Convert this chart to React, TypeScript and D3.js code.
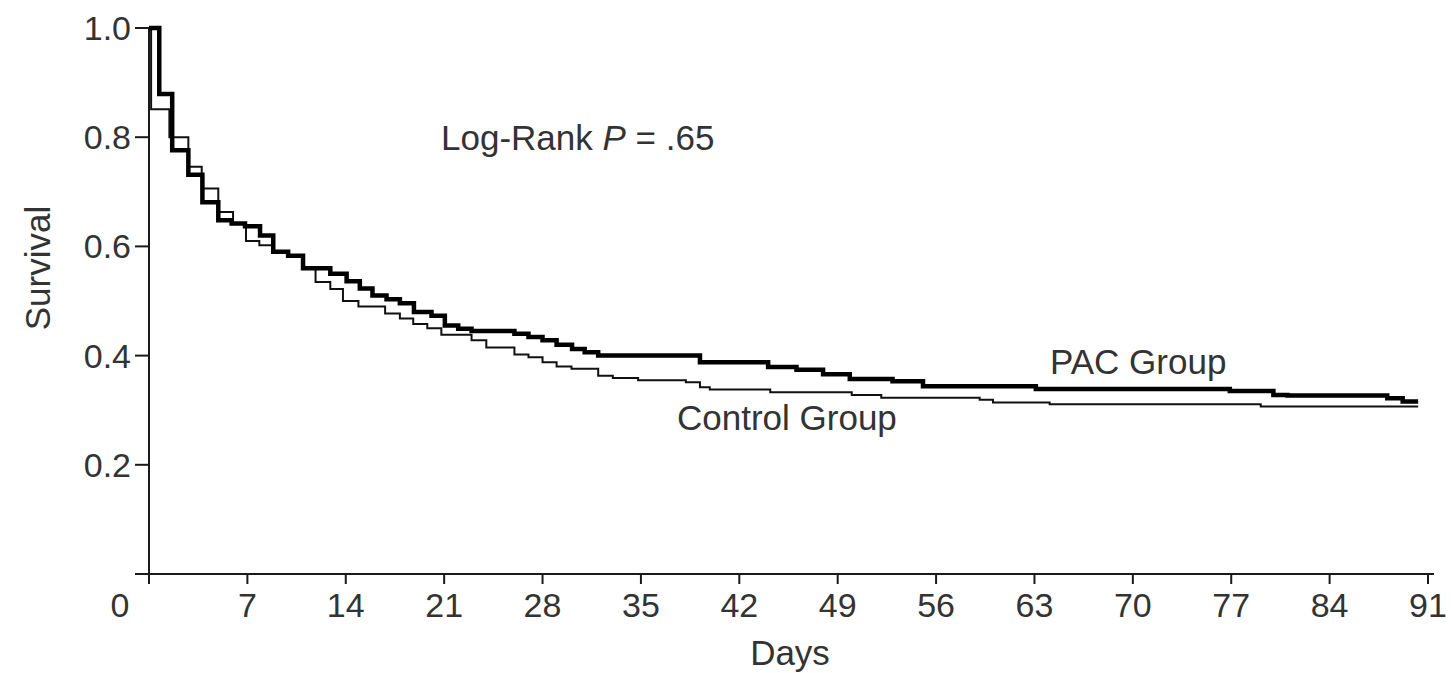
import React from "react";
import * as d3 from "d3";

const xTickValues = [0, 7, 14, 21, 28, 35, 42, 49, 56, 63, 70, 77, 84, 91];
const xTickLabels = ["0", "7", "14", "21", "28", "35", "42", "49", "56", "63", "70", "77", "84", "91"];
const yTickValues = [0.2, 0.4, 0.6, 0.8, 1.0];
const yTickLabels = ["0.2", "0.4", "0.6", "0.8", "1.0"];

const pacDays = [0, 0.73, 1.65, 2.8, 3.8, 4.93, 5.88, 6.83, 7.9, 8.84, 9.9, 10.96, 12.9, 14.06, 15.0, 15.9, 16.9, 17.85, 18.85, 20.1, 21.05, 22.0, 22.95, 26.0, 27.0, 28.0, 29.0, 30.1, 31.0, 31.96, 39.2, 44.05, 46.07, 47.96, 49.86, 52.9, 55.07, 63.1, 76.9, 80.0, 81.0, 88.1, 89.2, 90.3];
const pacSurvival = [1.0, 0.879, 0.776, 0.731, 0.681, 0.648, 0.642, 0.637, 0.62, 0.59, 0.583, 0.56, 0.55, 0.536, 0.523, 0.51, 0.503, 0.496, 0.48, 0.473, 0.455, 0.449, 0.445, 0.44, 0.434, 0.428, 0.42, 0.412, 0.406, 0.4, 0.388, 0.379, 0.374, 0.366, 0.357, 0.353, 0.344, 0.339, 0.335, 0.328, 0.327, 0.322, 0.316, 0.316];

const controlDays = [0, 0.15, 1.45, 2.8, 3.75, 4.93, 5.98, 6.9, 7.85, 8.84, 9.9, 10.96, 11.85, 12.9, 13.8, 14.9, 16.8, 17.85, 18.8, 19.8, 20.8, 22.95, 24.0, 26.0, 27.0, 28.0, 29.0, 30.06, 31.96, 33.0, 34.8, 38.2, 39.2, 39.9, 44.2, 50.0, 52.1, 59.1, 60.05, 64.08, 79.1, 90.3];
const controlSurvival = [1.0, 0.851, 0.8, 0.746, 0.706, 0.663, 0.642, 0.61, 0.602, 0.59, 0.583, 0.56, 0.535, 0.522, 0.5, 0.49, 0.477, 0.468, 0.458, 0.45, 0.438, 0.428, 0.415, 0.402, 0.397, 0.388, 0.38, 0.376, 0.363, 0.359, 0.355, 0.351, 0.342, 0.338, 0.333, 0.328, 0.323, 0.319, 0.314, 0.311, 0.307, 0.307];

const W = 1454;
const H = 673;
const FONT = "'Liberation Sans', Arial, Helvetica, sans-serif";
const TEXT = "#333333";
const AXIS = "#1a1a1a";

export default function App() {
  const x = d3.scaleLinear().domain([0, 91]).range([149, 1428]);
  const y = d3.scaleLinear().domain([0, 1]).range([574, 28]);

  const line = d3
    .line<[number, number]>()
    .x((d) => x(d[0]))
    .y((d) => y(d[1]))
    .curve(d3.curveStepAfter);

  const pac = pacDays.map((d, i) => [d, pacSurvival[i]] as [number, number]);
  const ctl = controlDays.map((d, i) => [d, controlSurvival[i]] as [number, number]);

  const y0 = y(0);
  const x0 = x(0);

  return (
    <svg
      width={W}
      height={H}
      style={{ position: "absolute", left: 0, top: 0, background: "#fff" }}
      fontFamily={FONT}
    >
      {/* axes */}
      <line x1={135} x2={1434} y1={y0} y2={y0} stroke={AXIS} strokeWidth={2} />
      <line x1={x0} x2={x0} y1={y(1)} y2={y0} stroke={AXIS} strokeWidth={2} />
      {xTickValues.map((v) => (
        <line key={"xt" + v} x1={x(v)} x2={x(v)} y1={y0} y2={y0 + 10} stroke={AXIS} strokeWidth={2} />
      ))}
      {xTickValues.map((v, i) => (
        <text
          key={"xl" + v}
          x={x(v) + (v === 0 ? -29 : 0)}
          y={617}
          textAnchor="middle"
          fontSize={34}
          fill={TEXT}
        >
          {xTickLabels[i]}
        </text>
      ))}
      {yTickValues.map((v) => (
        <line key={"yt" + v} x1={x0 - 14} x2={x0} y1={y(v)} y2={y(v)} stroke={AXIS} strokeWidth={2} />
      ))}
      {yTickValues.map((v, i) => (
        <text
          key={"yl" + v}
          x={131}
          y={y(v) + 12}
          textAnchor="end"
          fontSize={34}
          fill={TEXT}
        >
          {yTickLabels[i]}
        </text>
      ))}
      <text x={790} y={665} textAnchor="middle" fontSize={35} fill={TEXT}>
        Days
      </text>
      <text
        transform={`translate(50,268) rotate(-90)`}
        textAnchor="middle"
        fontSize={35}
        fill={TEXT}
      >
        Survival
      </text>

      {/* curves */}
      <path d={line(ctl) || ""} fill="none" stroke="#111" strokeWidth={2} />
      <path d={line(pac) || ""} fill="none" stroke="#000" strokeWidth={4.5} />

      {/* annotations */}
      <text x={441} y={150} fontSize={35} fill={TEXT}>
        Log-Rank <tspan fontStyle="italic">P</tspan> = .65
      </text>
      <text x={1050} y={374} fontSize={35} fill={TEXT}>
        PAC Group
      </text>
      <text x={677} y={430} fontSize={35} fill={TEXT}>
        Control Group
      </text>
    </svg>
  );
}
